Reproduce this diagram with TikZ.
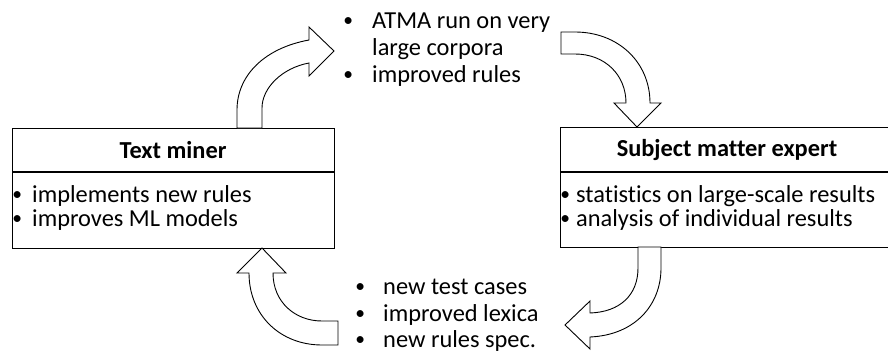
\documentclass[tikz,border=0pt]{standalone}
\usepackage{fontspec}
\setmainfont{Carlito}[Ligatures=NoCommon]
\usepackage{graphicx}
\newcommand\bitem[2]{\makebox[0pt]{\raisebox{0.15ex}{\scalebox{0.8}{\textbullet}}}\hspace*{#1}#2}
\begin{document}
\begin{tikzpicture}[x=1pt,y=-1pt,
  roleframe/.style={draw=black, line width=1.2pt, inner sep=0pt, anchor=north west},
  roletitle/.style={font=\fontsize{24.4}{29}\selectfont\bfseries, inner sep=0pt},
  itemtext/.style={font=\fontsize{24.4}{29}\selectfont, inner sep=0pt, anchor=base west},
  blockarrow/.style={draw=black, fill=white, line width=0.9pt, line join=miter}]
\path[use as bounding box, clip] (0,0) rectangle (888,356);

% Role boxes (the right one runs past the edge)
\node[roleframe, minimum width=322pt, minimum height=120pt] (tm) at (12,128) {};
\node[roleframe, minimum width=340pt, minimum height=120pt] (sme) at (560,127) {};
\coordinate (tmsep) at (12,172);
\coordinate (smesep) at (560,172);
\draw[line width=1.2pt] (tmsep) -- (tmsep -| tm.east);
\draw[line width=1.2pt] (smesep) -- (smesep -| sme.east);

\node[roletitle] (tmtitle) at (173,150) {Text miner};
\node[roletitle] (smetitle) at (727,150) {Subject matter expert};

\node[itemtext] (tm1) at (17,202) {\bitem{15pt}{implements new rules}};
\node[itemtext] (tm2) at (17,226) {\bitem{15pt}{improves ML models}};
\node[itemtext] (sme1) at (565,202) {\bitem{11pt}{statistics on large-scale results}};
\node[itemtext] (sme2) at (565,226) {\bitem{11pt}{analysis of individual results}};

% Hand-over notes
\node[itemtext] (up1) at (348,28) {\bitem{24pt}{ATMA run on very}};
\node[itemtext] (up2) at (372,55) {large corpora};
\node[itemtext] (up3) at (348,82) {\bitem{24pt}{improved rules}};
\node[itemtext] (dn1) at (360,294) {\bitem{23pt}{new test cases}};
\node[itemtext] (dn2) at (360,321) {\bitem{23pt}{improved lexica}};
\node[itemtext] (dn3) at (360,347) {\bitem{23pt}{new rules spec.}};

% Curved block arrows of the cycle
\draw[blockarrow] (237,128) -- (237,110) .. controls (237,75) and (265,48) .. (309,40)
  -- (309,27) -- (334,51) -- (309,76) -- (309,63)
  .. controls (282,68) and (262,88) .. (262,108) -- (262,128) -- cycle;
\draw[blockarrow] (561,32) -- (575,32) .. controls (618,32) and (650,62) .. (650,103)
  -- (661,103) -- (637,127) -- (614,103) -- (626,103)
  .. controls (626,75) and (605,54) .. (575,54) -- (561,54) -- cycle;
\draw[blockarrow] (638,247) -- (638,268) .. controls (638,295) and (620,312) .. (590,313)
  -- (590,301) -- (565,325) -- (590,349) -- (590,337)
  .. controls (635,335) and (661,305) .. (661,268) -- (661,247) -- cycle;
\draw[blockarrow] (338,345) -- (322,345) .. controls (280,345) and (249,315) .. (249,273)
  -- (237,273) -- (262,248) -- (286,273) -- (273,273)
  .. controls (273,302) and (295,321) .. (322,321) -- (338,321) -- cycle;
\end{tikzpicture}
\end{document}
